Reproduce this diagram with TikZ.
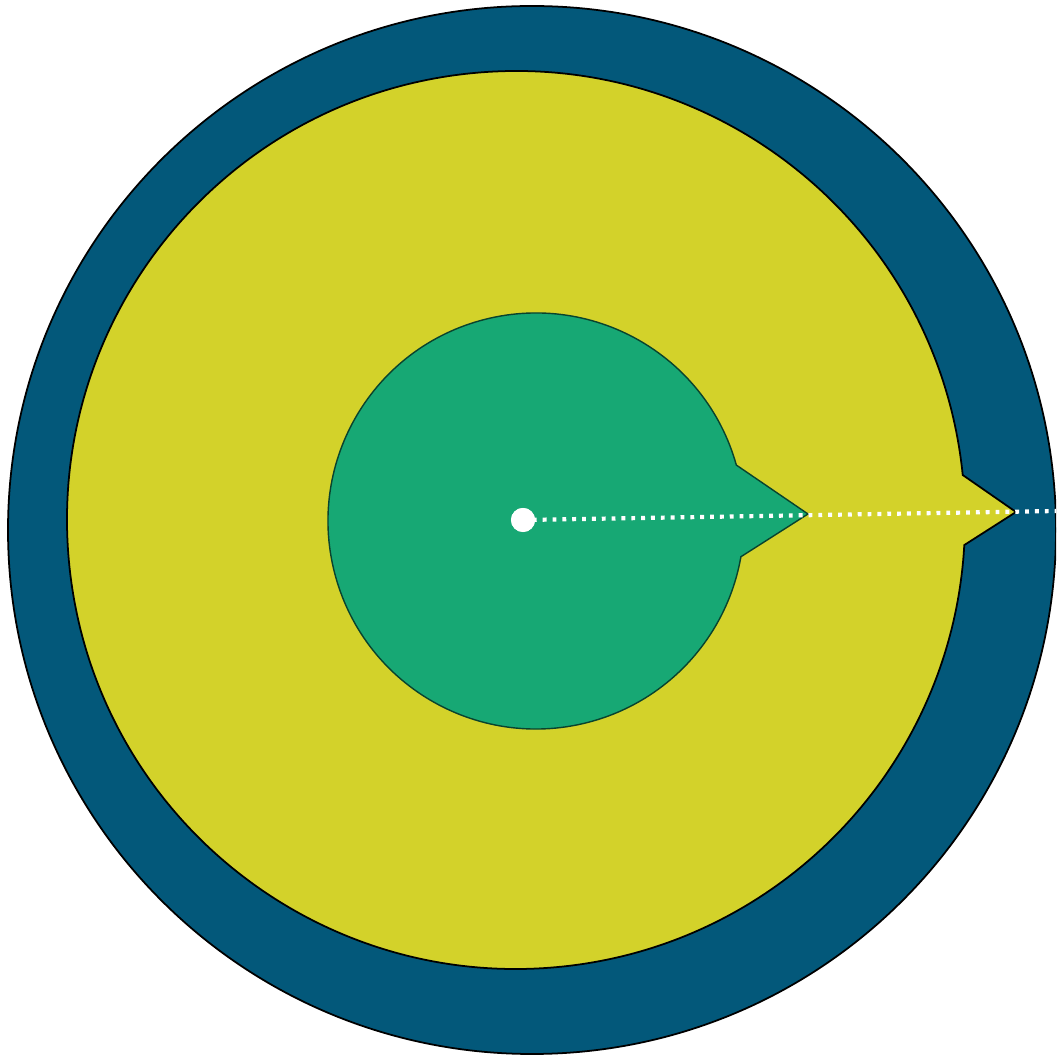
\documentclass[tikz,border=0pt]{standalone}
\usepackage{tikz}
\usetikzlibrary{positioning, calc}
\definecolor{discblue}{HTML}{03587A}
\definecolor{discyellow}{HTML}{D3D22A}
\definecolor{discgreen}{HTML}{17A874}
\tikzset{
  ringline/.style={draw=black, line width=0.5pt},
  outerring/.style={ringline, fill=discblue},
  midring/.style={ringline, fill=discyellow},
  innerdisc/.style={draw=black!60!discgreen, line width=0.4pt, fill=discgreen},
  centerdot/.style={circle, fill=white, minimum size=0.24cm, inner sep=0pt},
  rayline/.style={white, line width=1.2pt, dash pattern=on 1.1pt off 1.7pt},
}
\begin{document}
\begin{tikzpicture}[x=0.01cm, y=0.01cm]
  \useasboundingbox (0,0) rectangle (1056,1057);
  % outer ring
  \begin{scope}
    \clip (0,0) rectangle (1056,1057);
    \draw[outerring] (532,527) circle[radius=524];
  \end{scope}
  % middle disc with its notch
  \draw[midring] (516,537) ++(5.75:449) arc[start angle=5.75, end angle=356.8, radius=449]
    -- (1016,545) -- cycle;
  % inner disc with its notch
  \draw[innerdisc] (536,536) ++(15.6:208) arc[start angle=15.6, end angle=350.1, radius=208]
    -- (808,543) -- cycle;
  \node[centerdot] (dot) at (523,537) {};
  \coordinate (rayend) at (1056,546);
  \draw[rayline] (dot.center) -- (rayend);
  \node[centerdot] at (dot) {};
\end{tikzpicture}
\end{document}
